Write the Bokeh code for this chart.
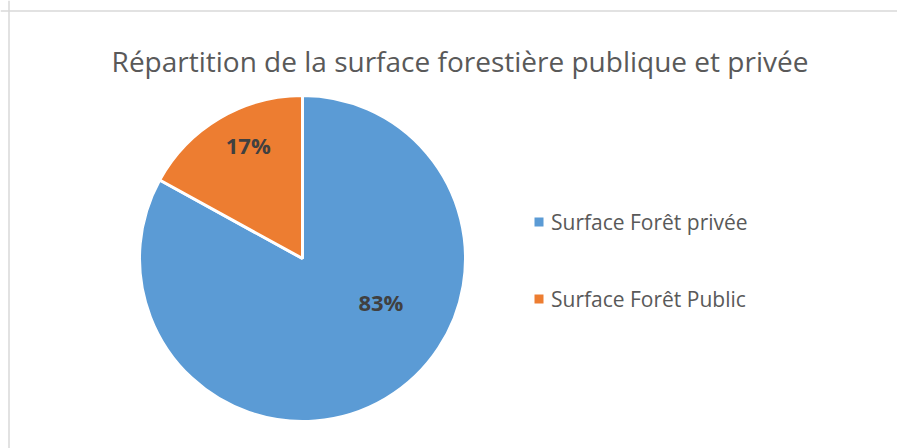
import math
from bokeh.plotting import figure
from bokeh.models import Range1d, Span, ColumnDataSource
from bokeh.core.properties import value
from bokeh.embed import file_html
from bokeh.resources import INLINE

# ---- data ----
title_text = "Répartition de la surface forestière publique et privée"
categories = ["Surface Forêt privée", "Surface Forêt Public"]
shares = [83, 17]
colors = ["#5B9BD5", "#ED7D31"]

# ---- layout (figure pixel units, y up) ----
W, H = 897, 448
cx, cy, radius = 302, 190, 163
label_polar = [(30.4, 0.55), (-5.0, 0.77)]  # (angle offset deg, radius fraction)
legend_x, legend_y0, legend_step = 538.5, 226.5, -77
font = "Open Sans"
text_color = "#595959"

p = figure(width=W, height=H, output_backend="svg", toolbar_location=None,
           x_range=Range1d(0, W), y_range=Range1d(0, H),
           min_border=0, min_border_left=0, min_border_right=0,
           min_border_top=0, min_border_bottom=0)
p.axis.visible = False
p.grid.visible = False
p.outline_line_color = None
p.background_fill_color = "white"
p.border_fill_color = "white"

total = float(sum(shares))
starts, ends, mids = [], [], []
a = 90.0
for s in shares:
    sweep = s / total * 360.0
    starts.append(math.radians(a - sweep))
    ends.append(math.radians(a))
    mids.append(a - sweep / 2)
    a -= sweep

src = ColumnDataSource(dict(start=starts, end=ends, color=colors, cat=categories))
p.wedge(x=cx, y=cy, radius=radius, radius_units="screen",
        start_angle="start", end_angle="end", fill_color="color",
        line_color="white", line_width=3, source=src)

# data labels
lx, ly, lt = [], [], []
for m, s, (off, rf) in zip(mids, shares, label_polar):
    ang = math.radians(m + off)
    lx.append(cx + rf * radius * math.cos(ang))
    ly.append(cy + rf * radius * math.sin(ang))
    lt.append(f"{s}%")
p.text(x=lx, y=ly, text=lt, text_font=value(font), text_font_size="22px",
       text_font_style="bold", text_color="#404040",
       text_align="center", text_baseline="middle")

# title
p.text(x=[459.5], y=[388], text=[title_text], text_font=value(font),
       text_font_size="28px", text_color=text_color,
       text_align="center", text_baseline="alphabetic")

# legend
gy = [legend_y0 + i * legend_step for i in range(len(categories))]
p.scatter(x=[legend_x] * len(categories), y=gy, marker="square", size=9,
          fill_color=colors, line_color=None)
p.text(x=[legend_x + 12] * len(categories), y=gy, text=categories,
       text_font=value(font), text_font_size="21px", text_color=text_color,
       text_align="left", text_baseline="middle")

# chart border (top and left visible)
p.add_layout(Span(location=437.5, dimension="width", line_color="#d9d9d9", line_width=1.5))
p.add_layout(Span(location=8.5, dimension="height", line_color="#d9d9d9", line_width=1.5))

open("out.html", "w").write(file_html(p, INLINE))
